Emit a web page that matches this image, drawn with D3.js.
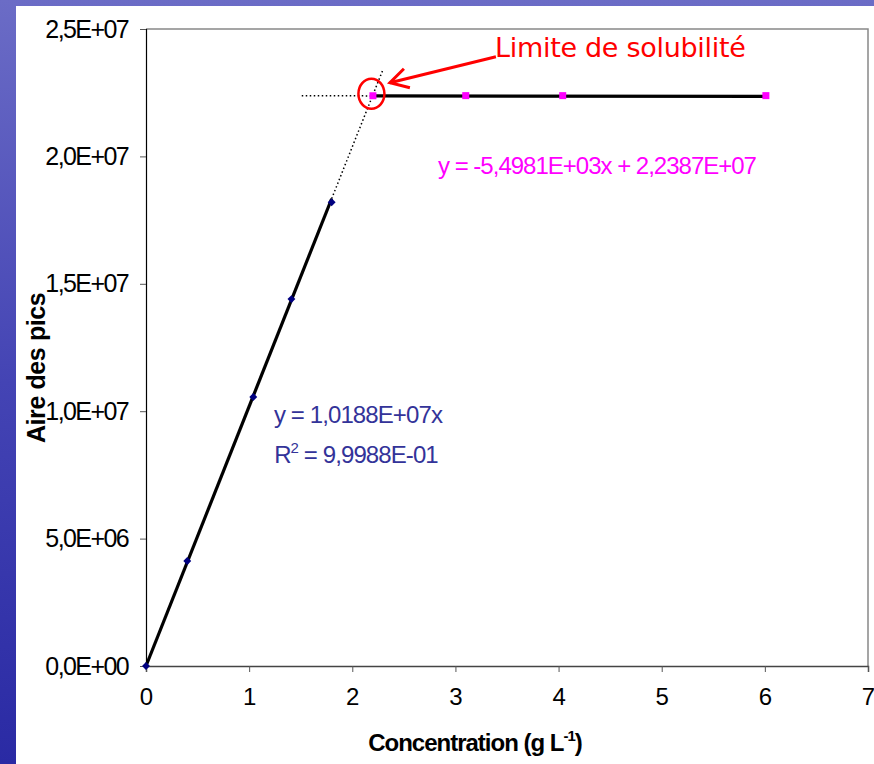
<!DOCTYPE html>
<html>
<head>
<meta charset="utf-8">
<script src="https://cdn.jsdelivr.net/npm/d3@7"></script>
<style>
  html, body { margin: 0; padding: 0; }
  body { width: 874px; height: 764px; overflow: hidden; }
  text { font-family: "Liberation Sans", Arial, sans-serif; }
</style>
</head>
<body>
<div id="chart"></div>
<script>
// data
const concLinear = [0, 0.4, 1.04, 1.41, 1.8];
const aireLinear = [0, 4.12e6, 1.056e7, 1.44e7, 1.82e7];
const concPlateau = [2.2, 3.1, 4.04, 6.01];
const airePlateau = [2.238e7, 2.2385e7, 2.2385e7, 2.2385e7];

const xTicks = [0, 1, 2, 3, 4, 5, 6, 7];
const yTicks = [0, 5e6, 1e7, 1.5e7, 2e7, 2.5e7];
const yTickLabels = ["0,0E+00", "5,0E+06", "1,0E+07", "1,5E+07", "2,0E+07", "2,5E+07"];

// trend lines (Excel)
const slopeLin = 1.0188e7;
const slopePlat = -5.4981e3, interPlat = 2.2387e7;

const width = 874, height = 764;
const margin = {left: 146, right: 6, top: 29, bottom: 98};

const svg = d3.select('#chart').append('svg')
    .attr('width', width)
    .attr('height', height);

// slide background
const defs = svg.append('defs');
const grad = defs.append('linearGradient').attr('id', 'bg').attr('x1', 0).attr('y1', 0).attr('x2', 0).attr('y2', 1);
grad.append('stop').attr('offset', '0%').attr('stop-color', '#6b6cc6');
grad.append('stop').attr('offset', '50%').attr('stop-color', '#4444b4');
grad.append('stop').attr('offset', '100%').attr('stop-color', '#2a2aa4');
svg.append('rect').attr('width', width).attr('height', height).attr('fill', 'url(#bg)');
svg.append('rect').attr('x', 16).attr('y', 6).attr('width', width - 16).attr('height', height - 6).attr('fill', 'white');

const x = d3.scaleLinear().domain([0, 7]).range([margin.left, width - margin.right]);
const y = d3.scaleLinear().domain([0, 2.5e7]).range([height - margin.bottom, margin.top]);

// plot border (top/right gray)
svg.append('path')
    .attr('d', `M${x(0)},${y(2.5e7)}H${x(7)}V${y(0)}`)
    .attr('fill', 'none')
    .attr('stroke', '#888')
    .attr('stroke-width', 1.5);

// axes
const yAxis = svg.append('g')
    .attr('transform', `translate(${x(0)},0)`)
    .call(d3.axisLeft(y).tickValues(yTicks).tickFormat((d, i) => yTickLabels[i]).tickSize(6).tickPadding(12));
yAxis.select('.domain').attr('stroke', '#000').attr('stroke-width', 1.2);
yAxis.selectAll('.tick line').attr('stroke', '#555');
yAxis.selectAll('.tick text')
    .style('font-size', '25px')
    .style('letter-spacing', '-1.6px')
    .attr('fill', '#000');

const xAxis = svg.append('g')
    .attr('transform', `translate(0,${y(0)})`)
    .call(d3.axisBottom(x).tickValues(xTicks).tickFormat(d3.format('d')).tickSize(6).tickPadding(16));
xAxis.select('.domain').attr('stroke', '#444').attr('stroke-width', 1.5);
xAxis.selectAll('.tick line').attr('stroke', '#555');
xAxis.selectAll('.tick text')
    .style('font-size', '24px')
    .attr('fill', '#000');

// axis titles
svg.append('text')
    .attr('x', 475).attr('y', 751)
    .attr('text-anchor', 'middle')
    .style('font-size', '24px').style('font-weight', 'bold').style('letter-spacing', '-1px')
    .text('Concentration (g L')
    .append('tspan').attr('dy', -10).style('font-size', '15px').text('-1')
    .clone(true).attr('dy', 10).style('font-size', '24px').text(')');

svg.append('text')
    .attr('transform', `translate(45,${y(1.17e7)}) rotate(-90)`)
    .attr('text-anchor', 'middle')
    .style('font-size', '25px').style('font-weight', 'bold').style('letter-spacing', '-0.4px')
    .text('Aire des pics');

// trend lines
const line = d3.line().x(d => x(d[0])).y(d => y(d[1]));
const fLin = c => slopeLin * c;
const fPlat = c => slopePlat * c + interPlat;

svg.append('path')
    .attr('d', line([[0, fLin(0)], [d3.max(concLinear), fLin(d3.max(concLinear))]]))
    .attr('stroke', '#000').attr('stroke-width', 3.2).attr('fill', 'none');
svg.append('path')
    .attr('d', line([[d3.max(concLinear), fLin(d3.max(concLinear))], [2.3, fLin(2.3)]]))
    .attr('stroke', '#000').attr('stroke-width', 1.5).attr('stroke-dasharray', '1.5,2.5').attr('fill', 'none');

svg.append('path')
    .attr('d', line([[d3.min(concPlateau), fPlat(d3.min(concPlateau))], [d3.max(concPlateau), fPlat(d3.max(concPlateau))]]))
    .attr('stroke', '#000').attr('stroke-width', 3.2).attr('fill', 'none');
svg.append('path')
    .attr('d', line([[1.51, fPlat(1.51)], [d3.min(concPlateau), fPlat(d3.min(concPlateau))]]))
    .attr('stroke', '#000').attr('stroke-width', 1.5).attr('stroke-dasharray', '1.5,2.5').attr('fill', 'none');

// markers
svg.append('g')
    .selectAll('path')
    .data(d3.zip(concLinear, aireLinear))
    .join('path')
    .attr('transform', d => `translate(${x(d[0])},${y(d[1])})`)
    .attr('d', d3.symbol(d3.symbolDiamond2, 40))
    .attr('fill', '#000080');

svg.append('g')
    .selectAll('rect')
    .data(d3.zip(concPlateau, airePlateau))
    .join('rect')
    .attr('x', d => x(d[0]) - 3.5)
    .attr('y', d => y(d[1]) - 3.5)
    .attr('width', 7).attr('height', 7)
    .attr('fill', '#ff00ff');

// equations
svg.append('text')
    .attr('x', 597).attr('y', 174)
    .attr('text-anchor', 'middle')
    .attr('fill', '#ff00ff')
    .style('font-size', '24px').style('letter-spacing', '-1px')
    .text('y = -5,4981E+03x + 2,2387E+07');

svg.append('text')
    .attr('x', 358).attr('y', 423)
    .attr('text-anchor', 'middle')
    .attr('fill', '#333399')
    .style('font-size', '24px').style('letter-spacing', '-0.9px')
    .text('y = 1,0188E+07x');

const r2 = svg.append('text')
    .attr('x', 356).attr('y', 463)
    .attr('text-anchor', 'middle')
    .attr('fill', '#333399')
    .style('font-size', '24px').style('letter-spacing', '-0.9px')
    .text('R');
r2.append('tspan').attr('dy', -10).style('font-size', '15px').text('2');
r2.append('tspan').attr('dy', 10).text(' = 9,9988E-01');

// annotation
const px = x(d3.min(concPlateau)), py = y(airePlateau[0]);
svg.append('ellipse')
    .attr('cx', px - 1.5).attr('cy', py - 2)
    .attr('rx', 13).attr('ry', 15)
    .attr('fill', 'none').attr('stroke', '#ff0000').attr('stroke-width', 2.5);

svg.append('path')
    .attr('d', `M${px + 123},${py - 39}L${px + 17},${py - 13}`)
    .attr('stroke', '#ff0000').attr('stroke-width', 3).attr('fill', 'none');
svg.append('path')
    .attr('d', `M${px + 31},${py - 27}L${px + 17},${py - 13}L${px + 37},${py - 8}`)
    .attr('stroke', '#ff0000').attr('stroke-width', 3).attr('fill', 'none').attr('stroke-linejoin', 'miter');

svg.append('text')
    .attr('x', 495).attr('y', 57)
    .attr('fill', '#ff0000')
    .style('font-family', '"DejaVu Sans", Verdana, sans-serif')
    .style('font-size', '27px').style('letter-spacing', '-0.3px')
    .text('Limite de solubilité');
</script>
</body>
</html>
